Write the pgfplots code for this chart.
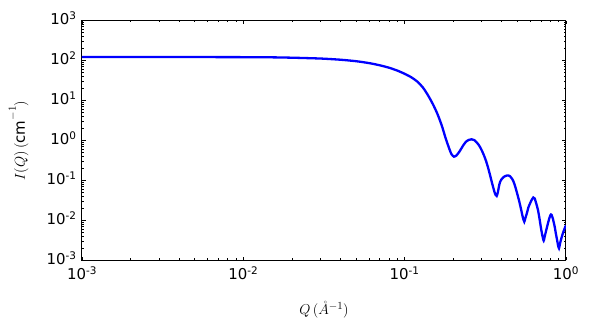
\documentclass[border=0pt]{standalone}
\usepackage{fontspec}
\setmainfont{DejaVu Sans}
\usepackage{pgfplots}
\pgfplotsset{compat=1.18}
\usetikzlibrary{calc}
\begin{document}
\begin{tikzpicture}
\begin{axis}[
  name=ax,
  scale only axis,
  width=484bp, height=240bp,
  xmode=log, ymode=log,
  xmin=1e-3, xmax=1, ymin=1e-3, ymax=1e3,
  axis line style={black, line width=1pt},
  tick align=inside,
  major tick length=4bp, minor tick length=2bp,
  every tick/.style={black, line width=0.6pt},
  xtick={1e-3,1e-2,1e-1,1},
  xticklabels={10\textsuperscript{-3},10\textsuperscript{-2},10\textsuperscript{-1},10\textsuperscript{0}},
  ytick={1e-3,1e-2,1e-1,1,1e1,1e2,1e3},
  yticklabels={10\textsuperscript{-3},10\textsuperscript{-2},10\textsuperscript{-1},10\textsuperscript{0},10\textsuperscript{1},10\textsuperscript{2},10\textsuperscript{3}},
  tick label style={font=\fontsize{15}{17}\selectfont},
  xticklabel style={yshift=-3bp},
  yticklabel style={xshift=-2bp, yshift=2bp},
  xlabel={$Q\,({\mathring{A}}^{-1})$},
  ylabel={$I(Q)\,(\mathrm{cm}^{-1})$},
  label style={font=\fontsize{15}{17}\selectfont},
  xlabel style={at={(axis description cs:0.5,-0.205)}, anchor=center},
  ylabel style={at={(axis description cs:-0.131,0.5)}, anchor=center},
]
\addplot[color={rgb,255:red,0;green,0;blue,255}, line width=2.3bp, smooth, tension=0.4] coordinates {
(0.001,122) (0.002,122) (0.004,121.9) (0.007,121.6) (0.01,121.2) (0.015,120)
(0.02,117.5) (0.03,112) (0.04,104.6) (0.05,96) (0.06,86.3) (0.07,76) (0.08,66)
(0.09,56) (0.1,46.5) (0.11,38) (0.12,29.5) (0.13,20.9) (0.14,13.2) (0.15,7.94)
(0.16,4.52) (0.17,2.34) (0.18,1.10) (0.19,0.589) (0.195,0.457) (0.2022,0.394)
(0.21,0.427) (0.22,0.550) (0.23,0.741) (0.24,0.933) (0.25,1.035) (0.26,1.072)
(0.27,1.023) (0.28,0.891) (0.29,0.741) (0.30,0.575) (0.31,0.427) (0.32,0.302)
(0.33,0.1995) (0.34,0.1259) (0.35,0.0794) (0.36,0.0525) (0.366,0.0437) (0.372,0.0410)
(0.378,0.0501) (0.384,0.0708) (0.39,0.0912) (0.40,0.1096) (0.41,0.1216) (0.42,0.1288)
(0.43,0.1327) (0.44,0.1334) (0.45,0.1274) (0.46,0.1148) (0.47,0.100) (0.48,0.0794)
(0.49,0.0603) (0.50,0.0447) (0.51,0.0331) (0.52,0.0240) (0.53,0.0170) (0.54,0.0120)
(0.5515,0.00933) (0.56,0.01148) (0.573,0.01549) (0.585,0.02138) (0.5984,0.02661)
(0.61,0.03162) (0.627,0.03758) (0.64,0.03548) (0.65,0.02884) (0.66,0.02344)
(0.6707,0.01820) (0.685,0.01122) (0.6998,0.00646) (0.714,0.00417) (0.7275,0.00313)
(0.74,0.00417) (0.757,0.00603) (0.77,0.00794) (0.785,0.01072) (0.80,0.01349)
(0.807,0.01413) (0.815,0.01380) (0.83,0.01096) (0.84,0.00891) (0.851,0.00700)
(0.865,0.00479) (0.88,0.00331) (0.893,0.00240) (0.905,0.00202) (0.92,0.00275)
(0.9375,0.00365) (0.955,0.00468) (0.97,0.00562) (0.985,0.00661) (1.0,0.00759)
};
\end{axis}
\pgfresetboundingbox
\path[use as bounding box] ($(ax.south west)+(-82bp,-69.5bp)$) rectangle ($(ax.north east)+(25bp,20.5bp)$);
\end{tikzpicture}
\end{document}
